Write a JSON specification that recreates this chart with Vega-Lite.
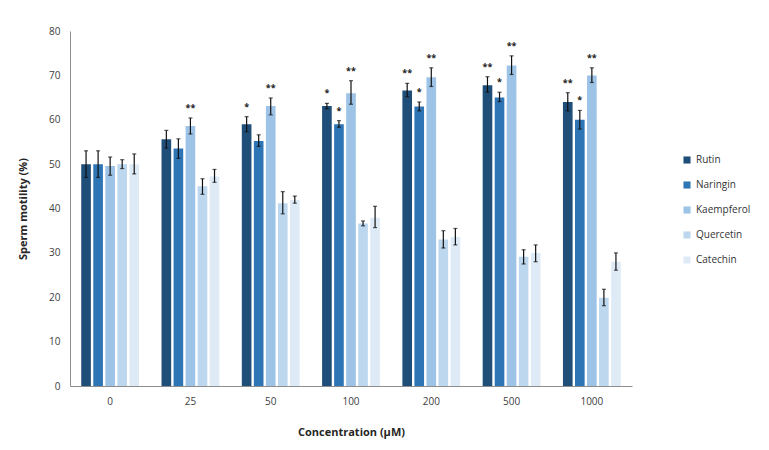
{
  "$schema": "https://vega.github.io/schema/vega-lite/v6.json",
  "width": 562,
  "height": 355,
  "autosize": {"type": "none"},
  "padding": {"left": 70, "top": 31, "right": 137, "bottom": 64},
  "background": "white",
  "data": {
    "values": [
      {"conc": "0", "compound": "Rutin", "value": 50, "lo": 47, "hi": 53, "sig": ""},
      {"conc": "0", "compound": "Naringin", "value": 50, "lo": 47, "hi": 53, "sig": ""},
      {"conc": "0", "compound": "Kaempferol", "value": 49.6, "lo": 47.5, "hi": 51.6, "sig": ""},
      {"conc": "0", "compound": "Quercetin", "value": 50, "lo": 49, "hi": 51, "sig": ""},
      {"conc": "0", "compound": "Catechin", "value": 50, "lo": 47.8, "hi": 52.3, "sig": ""},
      {"conc": "25", "compound": "Rutin", "value": 55.6, "lo": 53.6, "hi": 57.6, "sig": ""},
      {"conc": "25", "compound": "Naringin", "value": 53.5, "lo": 51.3, "hi": 55.7, "sig": ""},
      {"conc": "25", "compound": "Kaempferol", "value": 58.6, "lo": 56.8, "hi": 60.4, "sig": "**"},
      {"conc": "25", "compound": "Quercetin", "value": 45, "lo": 43.2, "hi": 46.7, "sig": ""},
      {"conc": "25", "compound": "Catechin", "value": 47.2, "lo": 45.9, "hi": 48.8, "sig": ""},
      {"conc": "50", "compound": "Rutin", "value": 59, "lo": 57.3, "hi": 60.7, "sig": "*"},
      {"conc": "50", "compound": "Naringin", "value": 55.2, "lo": 54, "hi": 56.6, "sig": ""},
      {"conc": "50", "compound": "Kaempferol", "value": 63.1, "lo": 61.1, "hi": 64.9, "sig": "**"},
      {"conc": "50", "compound": "Quercetin", "value": 41.2, "lo": 38.8, "hi": 43.8, "sig": ""},
      {"conc": "50", "compound": "Catechin", "value": 41.9, "lo": 41.2, "hi": 42.8, "sig": ""},
      {"conc": "100", "compound": "Rutin", "value": 63.1, "lo": 62.5, "hi": 63.7, "sig": "*"},
      {"conc": "100", "compound": "Naringin", "value": 59, "lo": 58.3, "hi": 59.8, "sig": "*"},
      {"conc": "100", "compound": "Kaempferol", "value": 66, "lo": 63.5, "hi": 68.8, "sig": "**"},
      {"conc": "100", "compound": "Quercetin", "value": 36.6, "lo": 36.1, "hi": 37.2, "sig": ""},
      {"conc": "100", "compound": "Catechin", "value": 37.9, "lo": 35.7, "hi": 40.5, "sig": ""},
      {"conc": "200", "compound": "Rutin", "value": 66.6, "lo": 65.2, "hi": 68.2, "sig": "**"},
      {"conc": "200", "compound": "Naringin", "value": 63, "lo": 62, "hi": 64, "sig": "*"},
      {"conc": "200", "compound": "Kaempferol", "value": 69.6, "lo": 67.5, "hi": 71.7, "sig": "**"},
      {"conc": "200", "compound": "Quercetin", "value": 33, "lo": 31.1, "hi": 35, "sig": ""},
      {"conc": "200", "compound": "Catechin", "value": 33.6, "lo": 31.8, "hi": 35.5, "sig": ""},
      {"conc": "500", "compound": "Rutin", "value": 67.8, "lo": 66.2, "hi": 69.7, "sig": "**"},
      {"conc": "500", "compound": "Naringin", "value": 65, "lo": 64.1, "hi": 66.2, "sig": "*"},
      {"conc": "500", "compound": "Kaempferol", "value": 72.2, "lo": 70.2, "hi": 74.4, "sig": "**"},
      {"conc": "500", "compound": "Quercetin", "value": 29.1, "lo": 27.5, "hi": 30.7, "sig": ""},
      {"conc": "500", "compound": "Catechin", "value": 30, "lo": 28, "hi": 31.8, "sig": ""},
      {"conc": "1000", "compound": "Rutin", "value": 64, "lo": 62, "hi": 66.1, "sig": "**"},
      {"conc": "1000", "compound": "Naringin", "value": 60, "lo": 57.9, "hi": 62.1, "sig": "*"},
      {"conc": "1000", "compound": "Kaempferol", "value": 70, "lo": 68.4, "hi": 71.7, "sig": "**"},
      {"conc": "1000", "compound": "Quercetin", "value": 19.9, "lo": 18.1, "hi": 21.8, "sig": ""},
      {"conc": "1000", "compound": "Catechin", "value": 28, "lo": 26.1, "hi": 30, "sig": ""}
    ]
  },
  "encoding": {
    "x": {
      "field": "conc",
      "type": "nominal",
      "sort": ["0", "25", "50", "100", "200", "500", "1000"],
      "scale": {"paddingInner": 0.28, "paddingOuter": 0.14},
      "axis": {
        "title": "Concentration (µM)",
        "labelAngle": 0,
        "ticks": false,
        "labelPadding": 10,
        "titlePadding": 20
      }
    },
    "xOffset": {
      "field": "compound",
      "type": "nominal",
      "sort": ["Rutin", "Naringin", "Kaempferol", "Quercetin", "Catechin"],
      "scale": {"paddingInner": 0.2}
    }
  },
  "layer": [
    {
      "mark": {"type": "bar"},
      "encoding": {
        "y": {
          "field": "value",
          "type": "quantitative",
          "scale": {"domain": [0, 80]},
          "axis": {
            "title": "Sperm motility (%)",
            "values": [0, 10, 20, 30, 40, 50, 60, 70, 80],
            "labelOverlap": false,
            "grid": false,
            "ticks": false,
            "labelPadding": 10,
            "titlePadding": 20
          }
        },
        "color": {
          "field": "compound",
          "type": "nominal",
          "sort": ["Rutin", "Naringin", "Kaempferol", "Quercetin", "Catechin"],
          "scale": {
            "domain": ["Rutin", "Naringin", "Kaempferol", "Quercetin", "Catechin"],
            "range": ["#1f4e79", "#2e75b6", "#9dc3e6", "#bdd7ee", "#deebf7"]
          },
          "legend": {
            "title": null,
            "orient": "none",
            "legendX": 612,
            "legendY": 124,
            "symbolType": "square",
            "symbolSize": 50,
            "symbolStrokeWidth": 0,
            "rowPadding": 15,
            "labelFontSize": 10,
            "labelColor": "#333"
          }
        }
      }
    },
    {
      "mark": {"type": "rule", "color": "#111", "strokeWidth": 1.2},
      "encoding": {
        "y": {"field": "lo", "type": "quantitative"},
        "y2": {"field": "hi"}
      }
    },
    {
      "mark": {"type": "tick", "orient": "horizontal", "color": "#111", "size": 4, "thickness": 1.2},
      "encoding": {"y": {"field": "lo", "type": "quantitative"}}
    },
    {
      "mark": {"type": "tick", "orient": "horizontal", "color": "#111", "size": 4, "thickness": 1.2},
      "encoding": {"y": {"field": "hi", "type": "quantitative"}}
    },
    {
      "mark": {"type": "text", "dy": -5, "fontSize": 9, "fontWeight": "bold", "color": "#222", "baseline": "bottom"},
      "encoding": {
        "y": {"field": "hi", "type": "quantitative"},
        "text": {"field": "sig"}
      }
    }
  ],
  "config": {
    "font": "Open Sans",
    "view": {"stroke": null},
    "axis": {
      "domainColor": "#8c8c8c",
      "labelColor": "#404040",
      "labelFontSize": 10,
      "titleFontSize": 11,
      "titleFontWeight": "bold",
      "titleColor": "#262626"
    }
  }
}
